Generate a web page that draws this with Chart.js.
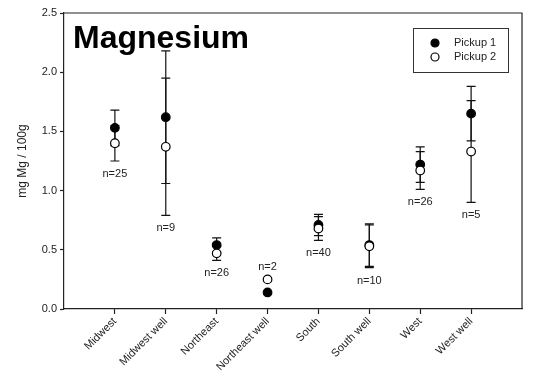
<!DOCTYPE html>
<html>
<head>
<meta charset="utf-8">
<script src="https://cdn.jsdelivr.net/npm/chart.js@4"></script>
<style>html,body{margin:0;padding:0;background:#fff}</style>
</head>
<body>
<canvas id="chart" width="540" height="377"></canvas>
<script>
const regions = ["Midwest", "Midwest well", "Northeast", "Northeast well", "South", "South well", "West", "West well"];
const pickup1 = [1.53, 1.62, 0.54, 0.14, 0.71, 0.54, 1.22, 1.65];
const pickup1Err = [0.15, 0.56, 0.06, 0, 0.09, 0.18, 0.15, 0.23];
const pickup2 = [1.40, 1.37, 0.47, 0.25, 0.68, 0.53, 1.17, 1.33];
const pickup2Err = [0.15, 0.58, 0.06, 0, 0.10, 0.18, 0.16, 0.43];
const sampleSizes = [25, 9, 26, 2, 40, 10, 26, 5];
const yTicks = [0, 0.5, 1.0, 1.5, 2.0, 2.5];

const FONT = "Arial, 'Liberation Sans', sans-serif";

// vertical error bars with caps, drawn under the markers
const errorBars = {
  id: "errorBars",
  beforeDatasetsDraw(chart) {
    const ctx = chart.ctx;
    const xs = chart.scales.x, ys = chart.scales.y;
    ctx.save();
    ctx.strokeStyle = "#111";
    ctx.lineWidth = 1.2;
    chart.data.datasets.forEach(ds => {
      ds.data.forEach((pt, i) => {
        const e = ds.errors[i];
        if (!e) return;
        const x = xs.getPixelForValue(pt.x);
        const top = ys.getPixelForValue(pt.y + e);
        const bot = ys.getPixelForValue(pt.y - e);
        ctx.beginPath();
        ctx.moveTo(x, top); ctx.lineTo(x, bot);
        ctx.moveTo(x - 4.5, top); ctx.lineTo(x + 4.5, top);
        ctx.moveTo(x - 4.5, bot); ctx.lineTo(x + 4.5, bot);
        ctx.stroke();
      });
    });
    ctx.restore();
  }
};

// frame, title, n= labels and boxed legend
const decorations = {
  id: "decorations",
  afterDatasetsDraw(chart) {
    const ctx = chart.ctx;
    const a = chart.chartArea;
    const xs = chart.scales.x, ys = chart.scales.y;
    ctx.save();

    ctx.strokeStyle = "#222";
    ctx.lineWidth = 1.2;
    ctx.beginPath();
    ctx.moveTo(a.left, a.top); ctx.lineTo(a.right, a.top); ctx.lineTo(a.right, a.bottom);
    ctx.stroke();

    ctx.fillStyle = "#000";
    ctx.font = "bold 32px " + FONT;
    ctx.textAlign = "left";
    ctx.textBaseline = "alphabetic";
    ctx.fillText("Magnesium", a.left + 9, a.top + 35);

    ctx.font = "11px " + FONT;
    ctx.fillStyle = "#222";
    ctx.textAlign = "center";
    ctx.textBaseline = "middle";
    sampleSizes.forEach((n, i) => {
      const x = xs.getPixelForValue(i + 1);
      let y;
      if (!pickup1Err[i] && !pickup2Err[i]) {
        y = ys.getPixelForValue(Math.max(pickup1[i], pickup2[i])) - 12;
      } else {
        const low = Math.min(pickup1[i] - pickup1Err[i], pickup2[i] - pickup2Err[i]);
        y = ys.getPixelForValue(low) + 13;
      }
      ctx.fillText("n=" + n, x, y);
    });

    const bx = a.right - 109, by = a.top + 15, bw = 95, bh = 44;
    ctx.fillStyle = "#fff";
    ctx.fillRect(bx, by, bw, bh);
    ctx.strokeStyle = "#333";
    ctx.lineWidth = 1;
    ctx.strokeRect(bx + 0.5, by + 0.5, bw, bh);
    chart.data.datasets.forEach((ds, k) => {
      const y = by + 15 + k * 14;
      ctx.beginPath();
      ctx.arc(bx + 22, y, 4, 0, Math.PI * 2);
      ctx.fillStyle = ds.backgroundColor;
      ctx.fill();
      ctx.strokeStyle = "#000";
      ctx.lineWidth = 1.2;
      ctx.stroke();
      ctx.fillStyle = "#222";
      ctx.textAlign = "left";
      ctx.fillText(ds.label, bx + 41, y);
    });
    ctx.restore();
  }
};

const ctx = document.getElementById("chart").getContext("2d");
const chart = new Chart(ctx, {
  type: "scatter",
  data: {
    datasets: [
      {
        label: "Pickup 1",
        data: pickup1.map((v, i) => ({ x: i + 1, y: v })),
        errors: pickup1Err,
        backgroundColor: "#000",
        borderColor: "#000",
        borderWidth: 1.2,
        pointRadius: 4.3,
        order: 1
      },
      {
        label: "Pickup 2",
        data: pickup2.map((v, i) => ({ x: i + 1, y: v })),
        errors: pickup2Err,
        backgroundColor: "#fff",
        borderColor: "#000",
        borderWidth: 1.2,
        pointRadius: 4.3,
        order: 0
      }
    ]
  },
  options: {
    responsive: false,
    animation: false,
    devicePixelRatio: 1,
    layout: { padding: { top: 13, right: 18, left: 0, bottom: 0 } },
    plugins: {
      legend: { display: false },
      tooltip: { enabled: false }
    },
    scales: {
      x: {
        type: "linear",
        min: 0,
        max: 9,
        afterBuildTicks: s => { s.ticks = regions.map((r, i) => ({ value: i + 1 })); },
        afterFit: s => { s.height = 68; },
        grid: { drawOnChartArea: false, tickLength: 5, color: "#222", tickWidth: 1.2 },
        border: { color: "#222", width: 1.2 },
        ticks: {
          autoSkip: false,
          minRotation: 45,
          maxRotation: 45,
          padding: 1,
          color: "#222",
          font: { family: FONT, size: 11 },
          callback: v => regions[v - 1] || ""
        }
      },
      y: {
        min: 0,
        max: 2.5,
        afterBuildTicks: s => { s.ticks = yTicks.map(v => ({ value: v })); },
        afterFit: s => { s.width = 64; },
        grid: { drawOnChartArea: false, tickLength: 4, color: "#222", tickWidth: 1.2 },
        border: { color: "#222", width: 1.2 },
        ticks: {
          padding: 3,
          color: "#222",
          font: { family: FONT, size: 11 },
          callback: v => v.toFixed(1)
        },
        title: {
          display: true,
          text: "mg Mg / 100g",
          color: "#222",
          font: { family: FONT, size: 12 },
          padding: { top: 15, bottom: 0 }
        }
      }
    }
  },
  plugins: [errorBars, decorations]
});
</script>
</body>
</html>
